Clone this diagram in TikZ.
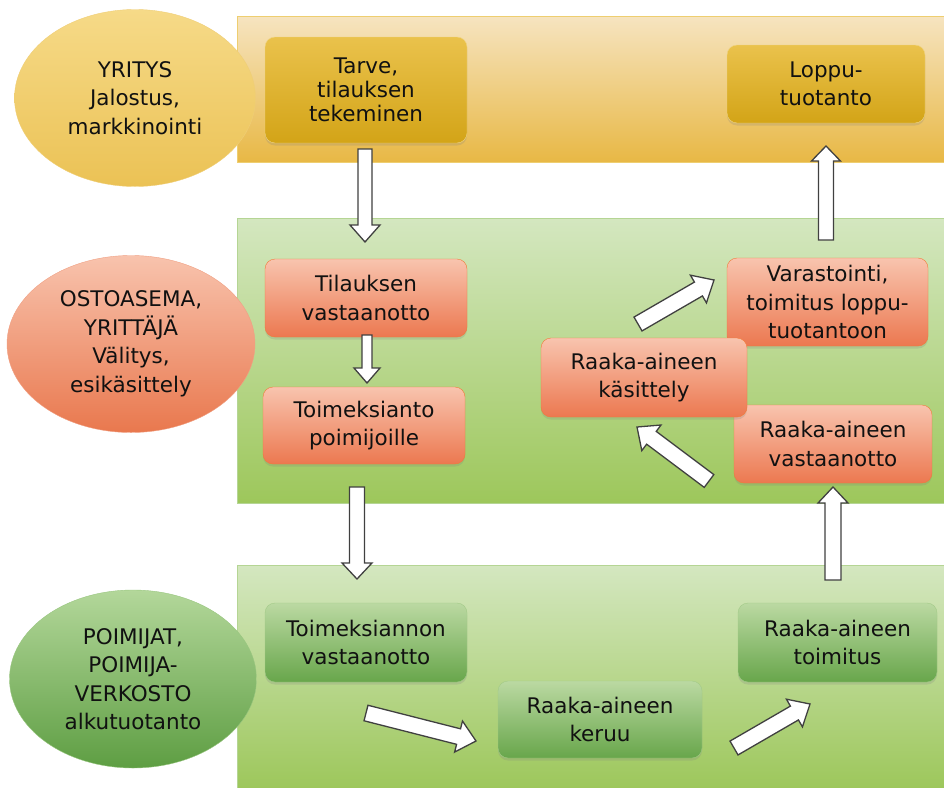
\documentclass[tikz,border=0pt]{standalone}
\usepackage{fontspec}
\setmainfont{DejaVu Sans}
\usepackage{xcolor}
\usepackage{tikz}
\usetikzlibrary{shapes.geometric,calc,shadows}

\definecolor{bandYtop}{HTML}{F6E4C0}
\definecolor{bandYbot}{HTML}{E8B845}
\definecolor{bandGtop}{HTML}{D4E7C0}
\definecolor{bandGbot}{HTML}{9DC75B}
\definecolor{goldTop}{HTML}{EAC24C}
\definecolor{goldBot}{HTML}{D3A417}
\definecolor{salTop}{HTML}{F8C4AE}
\definecolor{salBot}{HTML}{EC7850}
\definecolor{grnTop}{HTML}{BBD9A2}
\definecolor{grnBot}{HTML}{68A64B}
\definecolor{ellYtop}{HTML}{F6DA88}
\definecolor{ellYbot}{HTML}{EBC255}
\definecolor{ellRtop}{HTML}{F8C3AD}
\definecolor{ellRbot}{HTML}{E9784E}
\definecolor{ellGtop}{HTML}{B3D79A}
\definecolor{ellGbot}{HTML}{5E9E43}
\definecolor{txt}{HTML}{111111}

\tikzset{
  lane_y/.style={draw=goldTop!80!white, top color=bandYtop, bottom color=bandYbot,
    minimum width=707pt, inner sep=0pt},
  lane_g/.style={draw=grnTop!80!bandGbot, top color=bandGtop, bottom color=bandGbot,
    minimum width=707pt, inner sep=0pt},
  actor/.style={ellipse, inner sep=0pt, align=center, text=txt,
    font=\fontsize{21.5}{28.5}\selectfont},
  act_y/.style={actor, draw=ellYbot!80!white, top color=ellYtop, bottom color=ellYbot},
  act_r/.style={actor, draw=ellRbot!70!white, top color=ellRtop, bottom color=ellRbot},
  act_g/.style={actor, draw=ellGtop!70!ellGbot, top color=ellGtop, bottom color=ellGbot},
  task/.style={rectangle, rounded corners=10pt, inner sep=0pt, align=center, text=txt,
    font=\fontsize{21.5}{28.5}\selectfont,
    drop shadow={opacity=0.22, shadow xshift=0pt, shadow yshift=-2.5pt}},
  task_y/.style={task, draw=goldTop!70!white, top color=goldTop, bottom color=goldBot},
  task_r/.style={task, draw=salBot!70!orange, top color=salTop, bottom color=salBot},
  task_g/.style={task, draw=grnTop!70!grnBot, top color=grnTop, bottom color=grnBot},
  harr/.style={draw=black!75, fill=white, line width=1.3pt, line join=miter},
}

% hollow block arrow: \hollowarr{from}{to}{shaft half width}{head half width}{head length}
\newcommand{\hollowarr}[5]{%
  \coordinate (hb) at ($(#2)!#5!(#1)$);
  \draw[harr] ($(#1)!#3!90:(#2)$) -- ($(hb)!#3!90:(#2)$) -- ($(hb)!#4!90:(#2)$)
    -- (#2) -- ($(hb)!#4!-90:(#2)$) -- ($(hb)!#3!-90:(#2)$) -- ($(#1)!#3!-90:(#2)$) -- cycle;}

\begin{document}
\begin{tikzpicture}[x=1pt, y=-1pt]
\useasboundingbox (0,0) rectangle (944,787);

% Lanes
\node[lane_y, minimum height=146pt] (laneA) at (590.5,89) {};
\node[lane_g, minimum height=285pt] (laneB) at (590.5,360.5) {};
\node[lane_g, minimum height=224pt] (laneC) at (590.5,677) {};

% Actors
\node[act_y, minimum width=241pt, minimum height=177pt] (yritys) at (135,98)
  {YRITYS\\Jalostus,\\markkinointi};
\node[act_r, minimum width=248pt, minimum height=177pt] (ostoasema) at (131,344)
  {OSTOASEMA,\\YRITTÄJÄ\\Välitys,\\esikäsittely};
\node[act_g, minimum width=247pt, minimum height=178pt] (poimijat) at (133,679)
  {POIMIJAT,\\POIMIJA-\\VERKOSTO\\alkutuotanto};

% Tasks
\node[task_y, minimum width=202pt, minimum height=106pt, font=\fontsize{21.5}{24}\selectfont] (tarve) at (366,90) {Tarve,\\tilauksen\\tekeminen};
\node[task_y, minimum width=198pt, minimum height=78pt]  (loppu)  at (826,84)  {Loppu-\\tuotanto};
\node[task_r, minimum width=202pt, minimum height=78pt]  (tilaus) at (366,298) {Tilauksen\\vastaanotto};
\node[task_r, minimum width=202pt, minimum height=77pt]  (toimeks) at (364,425.5) {Toimeksianto\\poimijoille};
\node[task_r, minimum width=201pt, minimum height=88pt]  (varast) at (827.5,302) {Varastointi,\\toimitus loppu-\\tuotantoon};
\node[task_r, minimum width=198pt, minimum height=78pt]  (vastaan) at (833,444) {Raaka-aineen\\vastaanotto};
\node[task_r, minimum width=206pt, minimum height=79pt]  (kasit)  at (644,377.5) {Raaka-aineen\\käsittely};
\node[task_g, minimum width=202pt, minimum height=79pt]  (toimvast) at (366,642.5) {Toimeksiannon\\vastaanotto};
\node[task_g, minimum width=204pt, minimum height=77pt]  (keruu)  at (600,719.5) {Raaka-aineen\\keruu};
\node[task_g, minimum width=199pt, minimum height=79pt]  (toimitus) at (837.5,642.5) {Raaka-aineen\\toimitus};

% Arrow ends
\coordinate (a1s) at (365,149);  \coordinate (a1e) at (365,242);
\coordinate (a2s) at (367,335);  \coordinate (a2e) at (367,383);
\coordinate (a3s) at (357,487);  \coordinate (a3e) at (357,579);
\coordinate (a4s) at (366,713);  \coordinate (a4e) at (476,741);
\coordinate (a5s) at (734,748);  \coordinate (a5e) at (810,704);
\coordinate (a6s) at (833,580);  \coordinate (a6e) at (833,487);
\coordinate (a7s) at (709,481);  \coordinate (a7e) at (637,427);
\coordinate (a8s) at (638,324);  \coordinate (a8e) at (714,280);
\coordinate (a9s) at (826,240);  \coordinate (a9e) at (826,146);

% Flow
\hollowarr{a1s}{a1e}{7pt}{15pt}{17pt}
\hollowarr{a2s}{a2e}{5pt}{13pt}{15pt}
\hollowarr{a3s}{a3e}{7.5pt}{15pt}{16pt}
\hollowarr{a4s}{a4e}{8pt}{16pt}{18pt}
\hollowarr{a5s}{a5e}{8pt}{16pt}{18pt}
\hollowarr{a6s}{a6e}{8pt}{15pt}{16pt}
\hollowarr{a7s}{a7e}{8pt}{16pt}{18pt}
\hollowarr{a8s}{a8e}{8pt}{16pt}{18pt}
\hollowarr{a9s}{a9e}{7.5pt}{14.5pt}{15pt}

\end{tikzpicture}
\end{document}
